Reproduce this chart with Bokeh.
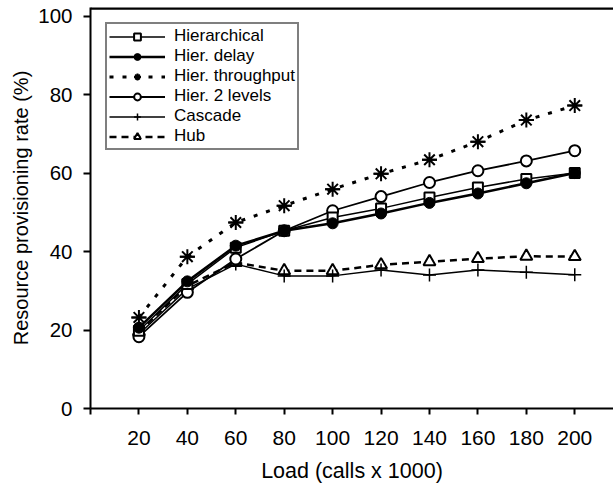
from bokeh.plotting import figure
from bokeh.models import Legend, LegendItem, FixedTicker, Range1d
from bokeh.embed import file_html
from bokeh.resources import INLINE

# ---- data ----
loads = [20, 40, 60, 80, 100, 120, 140, 160, 180, 200]
hierarchical = [19.8, 31.7, 41.0, 45.3, 48.7, 51.0, 53.8, 56.3, 58.5, 60.0]
hier_delay = [20.6, 32.4, 41.5, 45.3, 47.2, 49.7, 52.4, 54.8, 57.4, 60.0]
hier_throughput = [23.2, 38.7, 47.4, 51.7, 55.9, 59.8, 63.4, 68.0, 73.5, 77.2]
hier_2levels = [18.3, 29.6, 38.1, 45.3, 50.4, 54.0, 57.6, 60.6, 63.1, 65.7]
cascade = [19.0, 30.5, 36.8, 33.8, 33.8, 35.3, 34.0, 35.3, 34.7, 34.1]
hub = [19.5, 31.3, 37.2, 35.1, 35.1, 36.6, 37.4, 38.2, 38.8, 38.7]

x_ticks = [0] + loads
y_ticks = [0, 20, 40, 60, 80, 100]
x_end = 216
y_end = 102.2

FONT = "Liberation Sans"

p = figure(width=613, height=488, output_backend="svg", toolbar_location=None,
           x_range=Range1d(0, x_end), y_range=Range1d(0, y_end),
           min_border_left=90, min_border_right=0, min_border_top=7,
           min_border_bottom=80)
p.outline_line_color = None
p.xgrid.visible = False
p.ygrid.visible = False
p.background_fill_color = "white"
p.border_fill_color = "white"

# top border of the plot area, drawn along the top of the y range
p.line([0, x_end], [y_end * 0.998, y_end * 0.998], line_color="black", line_width=3)

xa = p.below[0]
ya = p.left[0]
for ax in (xa, ya):
    ax.axis_line_width = 2
    ax.axis_line_color = "black"
    ax.major_tick_line_width = 2
    ax.major_tick_line_color = "black"
    ax.major_tick_in = 0
    ax.minor_tick_line_color = None
    ax.major_label_text_font = FONT
    ax.major_label_text_color = "black"
    ax.axis_label_text_font = FONT
    ax.axis_label_text_font_style = "normal"
    ax.axis_label_text_color = "black"

xa.ticker = FixedTicker(ticks=x_ticks)
xa.major_label_overrides = {0: ""}
xa.major_tick_out = 6
xa.major_label_standoff = 16
xa.major_label_text_font_size = "21px"
xa.axis_label = "Load (calls x 1000)"
xa.axis_label_text_font_size = "21.5px"
xa.axis_label_standoff = 11

ya.ticker = FixedTicker(ticks=y_ticks)
ya.major_tick_out = 7
ya.major_label_standoff = 11
ya.major_label_text_font_size = "20.5px"
ya.axis_label = "Resource provisioning rate (%)"
ya.axis_label_text_font_size = "20px"
ya.axis_label_standoff = 3

# Hier. throughput (dotted, asterisk)
l = p.line(loads, hier_throughput, line_color="black", line_width=3, line_dash="4 9")
m1 = p.scatter(loads, hier_throughput, marker="asterisk", size=15, line_color="black", line_width=2)
m2 = p.scatter(loads, hier_throughput, marker="dash", size=15, line_color="black", line_width=2)
thr_item = LegendItem(label="Hier. throughput", renderers=[l, m1, m2])

# Hub (dashed, triangle)
l = p.line(loads, hub, line_color="black", line_width=2.5, line_dash="7 5")
m = p.scatter(loads, hub, marker="triangle", size=12, fill_color="white", line_color="black", line_width=2)
hub_item = LegendItem(label="Hub", renderers=[l, m])

# Cascade (solid, plus)
l = p.line(loads, cascade, line_color="black", line_width=1.5)
m = p.scatter(loads, cascade, marker="cross", size=13, line_color="black", line_width=1.5)
cas_item = LegendItem(label="Cascade", renderers=[l, m])

# Hier. 2 levels (solid, hollow circle)
l = p.line(loads, hier_2levels, line_color="black", line_width=1.8)
m = p.scatter(loads, hier_2levels, marker="circle", size=11, fill_color="white", line_color="black", line_width=2)
lev_item = LegendItem(label="Hier. 2 levels", renderers=[l, m])

# Hierarchical (solid, hollow square)
l = p.line(loads, hierarchical, line_color="black", line_width=1.5)
m = p.scatter(loads, hierarchical, marker="square", size=10, fill_color="white", line_color="black", line_width=2)
hie_item = LegendItem(label="Hierarchical", renderers=[l, m])

# Hier. delay (solid thick, filled circle)
l = p.line(loads, hier_delay, line_color="black", line_width=2.5)
m = p.scatter(loads, hier_delay, marker="circle", size=11, fill_color="black", line_color="black", line_width=1)
del_item = LegendItem(label="Hier. delay", renderers=[l, m])

legend = Legend(items=[hie_item, del_item, thr_item, lev_item, cas_item, hub_item],
                location="top_left")
legend.margin = 15
legend.padding = 2
legend.spacing = 0
legend.glyph_width = 56
legend.glyph_height = 17
legend.label_height = 17
legend.label_standoff = 9
legend.label_text_font = FONT
legend.label_text_font_size = "17px"
legend.label_text_color = "black"
legend.border_line_color = "black"
legend.border_line_width = 2
legend.background_fill_color = "white"
legend.background_fill_alpha = 1
p.add_layout(legend)

open("out.html", "w").write(file_html(p, INLINE))
